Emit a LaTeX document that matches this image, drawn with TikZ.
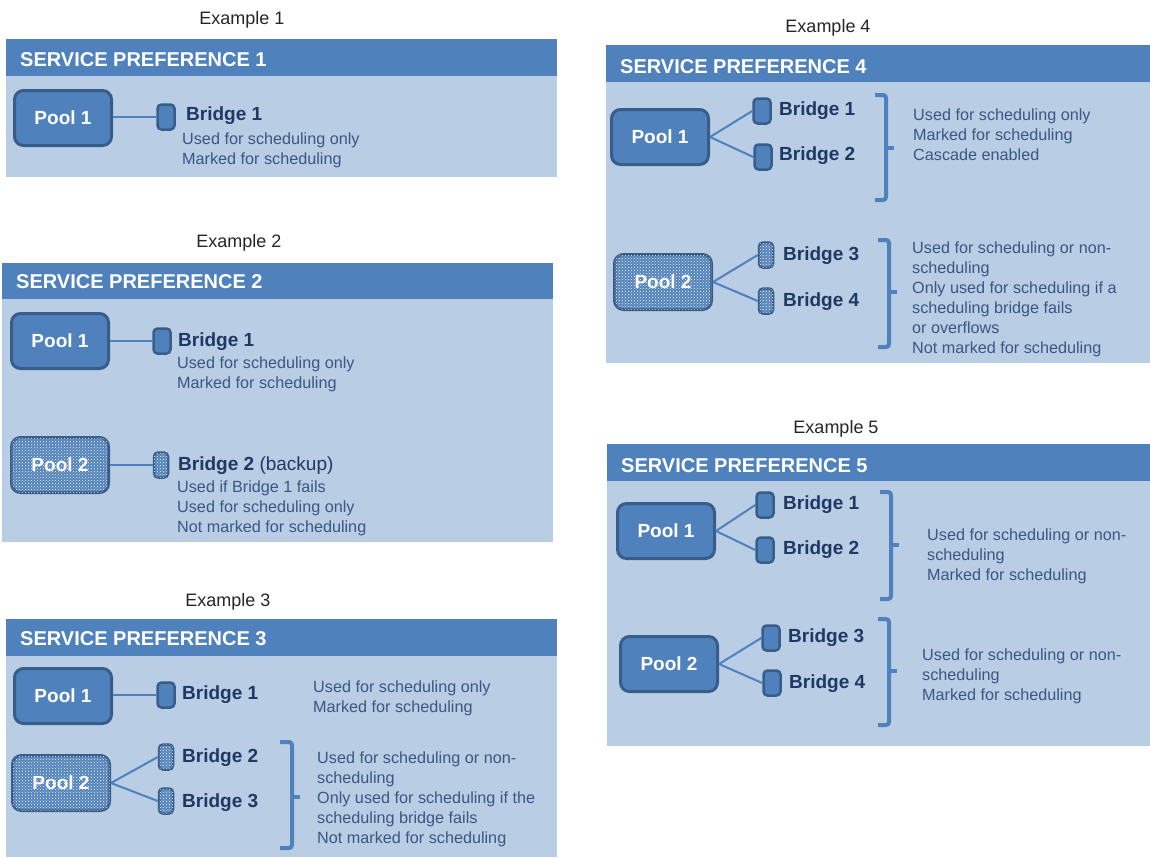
\documentclass[tikz,border=0pt]{standalone}
\usepackage{fontspec}
\setmainfont{Liberation Sans}
\usetikzlibrary{patterns, positioning}
\definecolor{hdblue}{RGB}{79,129,189}
\definecolor{bgblue}{RGB}{185,205,229}
\definecolor{edgeblue}{RGB}{56,93,138}
\definecolor{lblblue}{RGB}{31,56,100}
\definecolor{txtblue}{RGB}{58,86,130}
\tikzset{
  panel/.style={fill=bgblue},
  headbar/.style={fill=hdblue},
  headtxt/.style={anchor=base west, inner sep=0pt, text=white, font=\fontsize{20}{22}\selectfont\bfseries},
  extitle/.style={anchor=base, inner sep=0pt, text=black!85, font=\fontsize{18}{22}\selectfont},
  pool/.style={draw=edgeblue, line width=3pt, fill=hdblue, rounded corners=9pt, minimum width=97pt, minimum height=55pt, text=white, font=\fontsize{19}{22}\selectfont\bfseries},
  poolbk/.style={pool, fill=hdblue, postaction={pattern=crosshatch dots, pattern color=white}},
  bridge/.style={draw=edgeblue, line width=2.5pt, fill=hdblue, rounded corners=4pt, minimum width=17pt, minimum height=25pt, inner sep=0pt},
  bridgebk/.style={bridge, minimum width=14pt, fill=hdblue, postaction={pattern=crosshatch dots, pattern color=white}},
  link/.style={draw=hdblue, line width=2pt},
  brack/.style={draw=hdblue, line width=4pt, rounded corners=3pt},
  lbl/.style={anchor=base west, inner sep=0pt, text=lblblue, font=\fontsize{19}{22}\selectfont\bfseries},
  desc/.style={anchor=north west, inner sep=0pt, align=left, text=txtblue, font=\fontsize{16.2}{20}\selectfont}
}

\begin{document}
\begin{tikzpicture}[x=1pt, y=-1pt]
    \useasboundingbox[fill=white] (0,0) rectangle (1150,857);

    % Example 1
    \node[extitle] (t1) at (242,24) {Example 1};
    \fill[panel] (6,39) rectangle (557,177);
    \fill[headbar] (6,39) rectangle (557,76);
    \node[headtxt] (h1) at (20,66) {SERVICE PREFERENCE 1};
    \node[pool] (p11) at (63,118) {Pool 1};
    \node[bridge] (b11) at (166,117) {};
    \draw[link] (p11.east |- b11.west) -- (b11.west);
    \node[lbl] (l11) at (186,120) {Bridge 1};
    \node[desc] (d11) at (182,133) {Used for scheduling only\\Marked for scheduling};

    % Example 2
    \node[extitle] (t2) at (239,247) {Example 2};
    \fill[panel] (2,263) rectangle (553,542);
    \fill[headbar] (2,263) rectangle (553,299);
    \node[headtxt] (h2) at (16,288) {SERVICE PREFERENCE 2};
    \node[pool] (p21) at (60,341) {Pool 1};
    \node[bridge] (b21) at (162,341) {};
    \draw[link] (p21.east) -- (b21.west);
    \node[lbl] (l21) at (178,346) {Bridge 1};
    \node[desc] (d21) at (177,357) {Used for scheduling only\\Marked for scheduling};
    \node[poolbk] (p22) at (60,465) {Pool 2};
    \node[bridgebk] (b22) at (161,465) {};
    \draw[link] (p22.east) -- (b22.west);
    \node[lbl] (l22) at (178,470) {Bridge 2 {\mdseries(backup)}};
    \node[desc] (d22) at (177,481) {Used if Bridge 1 fails\\Used for scheduling only\\Not marked for scheduling};

    % Example 3
    \node[extitle] (t3) at (228,606) {Example 3};
    \fill[panel] (6,619) rectangle (557,857);
    \fill[headbar] (6,619) rectangle (557,656);
    \node[headtxt] (h3) at (20,645) {SERVICE PREFERENCE 3};
    \node[pool] (p31) at (63,696) {Pool 1};
    \node[bridge] (b31) at (166,695) {};
    \draw[link] (p31.east |- b31.west) -- (b31.west);
    \node[lbl] (l31) at (182,699) {Bridge 1};
    \node[desc] (d31) at (313,681) {Used for scheduling only\\Marked for scheduling};
    \node[poolbk] (p32) at (61,783) {Pool 2};
    \node[bridgebk] (b32) at (166,757) {};
    \node[bridgebk] (b33) at (166,801) {};
    \draw[link] (p32.east) -- (b32.west);
    \draw[link] (p32.east) -- (b33.west);
    \node[lbl] (l32) at (182,762) {Bridge 2};
    \node[lbl] (l33) at (182,807) {Bridge 3};
    \draw[brack] (280,742) -- (292,742) -- (292,848) -- (280,848);
    \draw[brack] (292,797) -- (300,797);
    \node[desc] (d32) at (317,752) {Used for scheduling or non-\\scheduling\\Only used for scheduling if the\\scheduling bridge fails\\Not marked for scheduling};

    % Example 4
    \node[extitle] (t4) at (828,32) {Example 4};
    \fill[panel] (606,45) rectangle (1150,363);
    \fill[headbar] (606,45) rectangle (1150,82);
    \node[headtxt] (h4) at (620,73) {SERVICE PREFERENCE 4};
    \node[pool] (p41) at (660,137) {Pool 1};
    \node[bridge] (b41) at (762,111) {};
    \node[bridge] (b42) at (763,157) {};
    \draw[link] (p41.east) -- (b41.west);
    \draw[link] (p41.east) -- (b42.west);
    \node[lbl] (l41) at (779,115) {Bridge 1};
    \node[lbl] (l42) at (779,160) {Bridge 2};
    \draw[brack] (875,95) -- (886,95) -- (886,200) -- (875,200);
    \draw[brack] (886,148) -- (894,148);
    \node[desc] (d41) at (913,109) {Used for scheduling only\\Marked for scheduling\\Cascade enabled};
    \node[poolbk] (p42) at (663,282) {Pool 2};
    \node[bridgebk] (b43) at (766,255) {};
    \node[bridgebk] (b44) at (766,301) {};
    \draw[link] (p42.east) -- (b43.west);
    \draw[link] (p42.east) -- (b44.west);
    \node[lbl] (l43) at (783,260) {Bridge 3};
    \node[lbl] (l44) at (783,306) {Bridge 4};
    \draw[brack] (878,240) -- (889,240) -- (889,347) -- (878,347);
    \draw[brack] (889,292) -- (897,292);
    \node[desc] (d42) at (912,242) {Used for scheduling or non-\\scheduling\\Only used for scheduling if a\\scheduling bridge fails\\or overflows\\Not marked for scheduling};

    % Example 5
    \node[extitle] (t5) at (836,433) {Example 5};
    \fill[panel] (607,444) rectangle (1150,746);
    \fill[headbar] (607,444) rectangle (1150,481);
    \node[headtxt] (h5) at (621,472) {SERVICE PREFERENCE 5};
    \node[pool] (p51) at (666,531) {Pool 1};
    \node[bridge] (b51) at (765,505) {};
    \node[bridge] (b52) at (765,550) {};
    \draw[link] (p51.east) -- (b51.west);
    \draw[link] (p51.east) -- (b52.west);
    \node[lbl] (l51) at (783,509) {Bridge 1};
    \node[lbl] (l52) at (783,554) {Bridge 2};
    \draw[brack] (880,492) -- (891,492) -- (891,599) -- (880,599);
    \draw[brack] (891,545) -- (899,545);
    \node[desc] (d51) at (927,529) {Used for scheduling or non-\\scheduling\\Marked for scheduling};
    \node[pool] (p52) at (669,664) {Pool 2};
    \node[bridge] (b53) at (771,638) {};
    \node[bridge] (b54) at (772,683) {};
    \draw[link] (p52.east) -- (b53.west);
    \draw[link] (p52.east) -- (b54.west);
    \node[lbl] (l53) at (788,642) {Bridge 3};
    \node[lbl] (l54) at (789,688) {Bridge 4};
    \draw[brack] (878,619) -- (889,619) -- (889,725) -- (878,725);
    \draw[brack] (889,671) -- (897,671);
    \node[desc] (d52) at (922,649) {Used for scheduling or non-\\scheduling\\Marked for scheduling};
\end{tikzpicture}
\end{document}
